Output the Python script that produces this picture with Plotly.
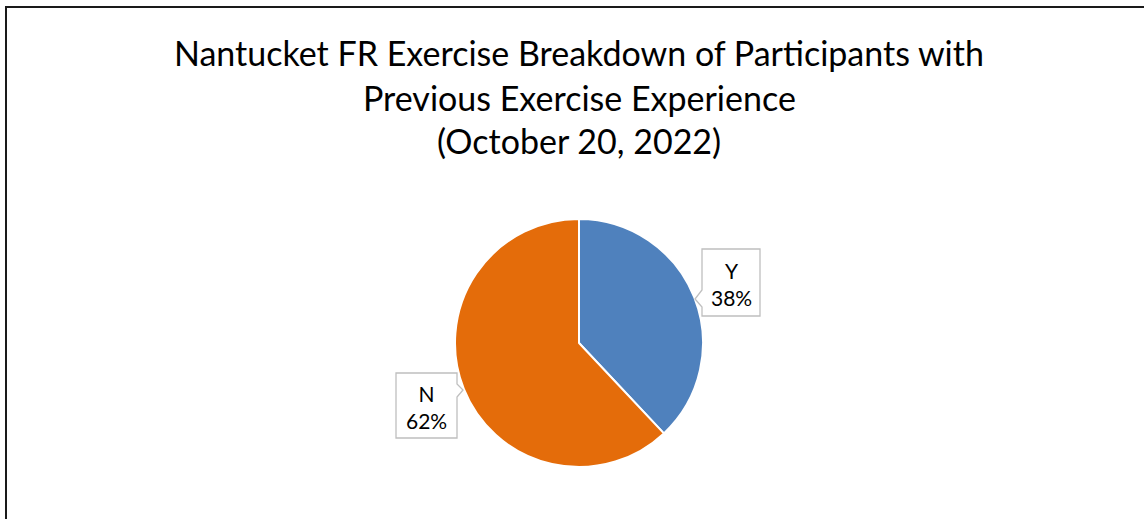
import plotly.graph_objects as go

# Data
categories = ["Y", "N"]
values = [38, 62]
colors = ["#4F81BD", "#E46C0A"]
title_lines = [
    "Nantucket FR Exercise Breakdown of Participants with",
    "Previous Exercise Experience",
    "(October 20, 2022)",
]

W, H = 1144, 519

def px(x):
    return x / W

def py(y):
    return 1 - y / H

fig = go.Figure()
fig.add_trace(go.Pie(
    labels=categories,
    values=values,
    sort=False,
    direction="clockwise",
    rotation=0,
    marker=dict(colors=colors, line=dict(color="white", width=2)),
    textinfo="none",
    hoverinfo="label+percent",
    domain=dict(x=[px(455), px(703)], y=[py(467), py(219)]),
    showlegend=False,
))

shapes = []
# chart border (left and top)
shapes.append(dict(type="path", xref="paper", yref="paper",
                   path=f"M {px(6)} {py(530)} L {px(6)} {py(7)} L {px(1160)} {py(7)}",
                   line=dict(color="#1a1a1a", width=2)))

def callout(pts):
    d = "M " + " L ".join(f"{px(x)} {py(y)}" for x, y in pts) + " Z"
    return dict(type="path", xref="paper", yref="paper", path=d,
                fillcolor="white", line=dict(color="#BFBFBF", width=1.3), layer="above")

# Y callout (pointer left)
shapes.append(callout([(702, 249), (760, 249), (760, 316), (702, 316), (702, 307), (695, 299), (702, 290)]))
# N callout (pointer right)
shapes.append(callout([(396, 373), (457, 373), (457, 384), (463, 390), (457, 397), (457, 438), (396, 438)]))

annotations = []
title_y = [52, 97, 140]
for line, yy in zip(title_lines, title_y):
    annotations.append(dict(text=line, x=px(579), y=py(yy), xref="paper", yref="paper",
                            showarrow=False, xanchor="center", yanchor="middle",
                            font=dict(family="Lato, Carlito, Calibri, sans-serif", size=34, color="#000000")))

total = sum(values)
label_pos = [(731, 284), (426, 407)]
for cat, v, (lx, ly) in zip(categories, values, label_pos):
    annotations.append(dict(text=f"{cat}<br>{round(100 * v / total)}%", x=px(lx), y=py(ly),
                            xref="paper", yref="paper", showarrow=False,
                            xanchor="center", yanchor="middle", align="center",
                            font=dict(family="Lato, Carlito, Calibri, sans-serif", size=21, color="#000000")))

fig.update_layout(
    width=W, height=H,
    margin=dict(l=0, r=0, t=0, b=0),
    paper_bgcolor="white",
    plot_bgcolor="white",
    shapes=shapes,
    annotations=annotations,
)

fig.write_html("out.html", config={"displayModeBar": False},
               post_script="document.body.style.margin='0';document.body.style.overflow='hidden';")
